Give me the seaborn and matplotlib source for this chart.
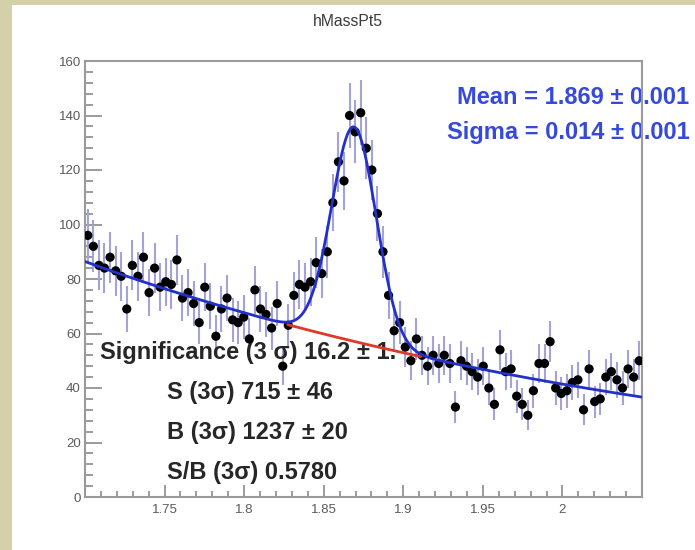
import numpy as np
import pandas as pd
import matplotlib
matplotlib.use("Agg")
import matplotlib.pyplot as plt
from matplotlib.patches import Rectangle
from matplotlib.ticker import FixedLocator, MultipleLocator
import seaborn as sns

# ---- histogram: candidate invariant mass, 100 bins on [1.70, 2.05] ----
x_low, x_high = 1.70, 2.05
n_bins = 100
counts = [
    96, 92, 85, 84, 88, 83, 81, 69, 85, 81,
    88, 75, 84, 77, 79, 78, 87, 73, 75, 71,
    64, 77, 70, 59, 69, 73, 65, 64, 66, 58,
    76, 69, 67, 62, 71, 48, 63, 74, 78, 77,
    79, 86, 82, 90, 108, 123, 116, 140, 134, 141,
    128, 120, 104, 90, 74, 61, 64, 55, 50, 58,
    52, 48, 52, 49, 52, 49, 33, 50, 48, 46,
    44, 48, 40, 34, 54, 46, 47, 37, 34, 30,
    39, 49, 49, 57, 40, 38, 39, 42, 43, 32,
    47, 35, 36, 44, 46, 43, 40, 47, 44, 50,
]

# ---- fit result: exponential background + Gaussian peak ----
fit_mean = 1.869
fit_sigma = 0.014
bkg_norm = 86.4      # background level at x_low
bkg_slope = -2.45
sig_amp = 78.7

title = "hMassPt5"
x_ticks = [1.75, 1.80, 1.85, 1.90, 1.95, 2.00]
x_tick_labels = ["1.75", "1.8", "1.85", "1.9", "1.95", "2"]
y_ticks = [0, 20, 40, 60, 80, 100, 120, 140, 160]
y_tick_labels = ["0", "20", "40", "60", "80", "100", "120", "140", "160"]
fit_lines = ["Mean = 1.869 \u00b1 0.001", "Sigma = 0.014 \u00b1 0.001"]
yield_lines = [
    "Significance (3 \u03c3) 16.2 \u00b1 1.",
    "S (3\u03c3) 715 \u00b1 46",
    "B (3\u03c3) 1237 \u00b1 20",
    "S/B (3\u03c3) 0.5780",
]

# ---- styling ----
sns.set_theme(style="white")
plt.rcParams["font.family"] = ["Liberation Sans", "DejaVu Sans"]

W, H = 695, 550
def fx(px):
    return px / W
def fy(py):
    return 1 - py / H

fig = plt.figure(figsize=(W / 100, H / 100), dpi=100)
fig.patch.set_facecolor("#d4d0aa")
fig.patches.append(Rectangle((fx(12), 0), 1 - fx(12), fy(5), transform=fig.transFigure,
                             facecolor="white", edgecolor="none", zorder=-10))

ax = fig.add_axes([fx(85), fy(497), fx(642) - fx(85), fy(61) - fy(497)])
ax.set_facecolor("white")
ax.set_zorder(1)

edges = np.linspace(x_low, x_high, n_bins + 1)
centers = 0.5 * (edges[:-1] + edges[1:])
df = pd.DataFrame({"mass": centers, "entries": counts})
df["err"] = np.sqrt(df["entries"])

# error bars
ax.errorbar(df["mass"], df["entries"], yerr=df["err"], fmt="none",
            ecolor="#a3a3d8", elinewidth=1.5, capsize=0, zorder=2)
# markers
sns.scatterplot(data=df, x="mass", y="entries", ax=ax, color="black", s=44,
                edgecolor="none", zorder=3, legend=False)

# fit curves
xf = np.linspace(x_low, x_high, 600)
bkg = bkg_norm * np.exp(bkg_slope * (xf - x_low))
total = bkg + sig_amp * np.exp(-0.5 * ((xf - fit_mean) / fit_sigma) ** 2)
curve = pd.DataFrame({"mass": xf, "total": total, "bkg": bkg})
win = curve[(curve["mass"] >= fit_mean - 3 * fit_sigma) & (curve["mass"] <= fit_mean + 3 * fit_sigma)]
sns.lineplot(data=win, x="mass", y="bkg", ax=ax, color="#de3a2a", lw=2.0, zorder=4)
sns.lineplot(data=curve, x="mass", y="total", ax=ax, color="#2331c9", lw=2.0, zorder=5)

ax.set_xlim(x_low, x_high)
ax.set_ylim(0, 160)
ax.set_xlabel("")
ax.set_ylabel("")

ax.xaxis.set_major_locator(FixedLocator(x_ticks))
ax.set_xticklabels(x_tick_labels)
ax.xaxis.set_minor_locator(MultipleLocator(0.01))
ax.yaxis.set_major_locator(FixedLocator(y_ticks))
ax.set_yticklabels(y_tick_labels)
ax.yaxis.set_minor_locator(MultipleLocator(4))

ax.tick_params(axis="both", which="both", direction="in", colors="#8a8a8a",
               labelcolor="#5a5a5a", labelsize=9.5, width=1.2,
               bottom=True, left=True, top=False, right=False)
ax.tick_params(axis="y", which="major", length=12, pad=3)
ax.tick_params(axis="y", which="minor", length=6)
ax.tick_params(axis="x", which="major", length=8.5, pad=5)
ax.tick_params(axis="x", which="minor", length=4)
for sp in ax.spines.values():
    sp.set_color("#9a9a9a")
    sp.set_linewidth(1.5)

# title
fig.text(fx(348), fy(22), title, ha="center", va="center", fontsize=11.3, color="#3a3a3a")

# fit parameters (kept beneath the frame line, which crosses them)
ax.text(fx(457), fy(97), fit_lines[0], transform=fig.transFigure, ha="left", va="center",
        fontsize=17, fontweight="bold", color="#3549da", zorder=2.2, clip_on=False)
ax.text(fx(447), fy(133), fit_lines[1], transform=fig.transFigure, ha="left", va="center",
        fontsize=17, fontweight="bold", color="#3549da", zorder=2.2, clip_on=False)

# signal / background summary
ax.text(fx(100), fy(352), yield_lines[0], transform=fig.transFigure, ha="left", va="center",
        fontsize=17, fontweight="bold", color="#262626", zorder=2.5)
for line, ypx in zip(yield_lines[1:], [393, 433, 473]):
    ax.text(fx(167), fy(ypx), line, transform=fig.transFigure, ha="left", va="center",
            fontsize=17, fontweight="bold", color="#262626", zorder=2.5)

fig.savefig("out.png", dpi=100)
